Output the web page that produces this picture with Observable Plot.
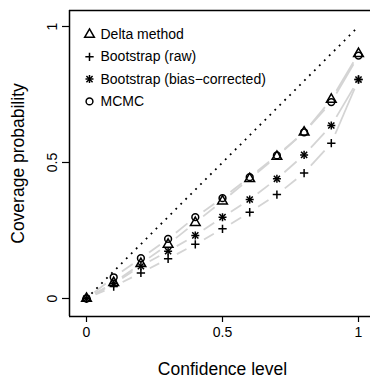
<!DOCTYPE html>
<html>
<head>
<meta charset="utf-8">
<script src="https://cdn.jsdelivr.net/npm/d3@7"></script>
<script src="https://cdn.jsdelivr.net/npm/@observablehq/plot@0.6"></script>
<style>
  html, body { margin: 0; padding: 0; background: #fff; }
  #chart svg { display: block; }
</style>
</head>
<body>
<div id="chart"></div>
<script>
// Nominal confidence level of each interval
const levels = [0, 0.1, 0.2, 0.3, 0.4, 0.5, 0.6, 0.7, 0.8, 0.9, 1.0];

// Empirical coverage probability for each method
const deltaMethod = [0, 0.058, 0.128, 0.199, 0.279, 0.358, 0.440, 0.522, 0.611, 0.732, 0.900];
const bootRaw     = [0, 0.044, 0.094, 0.146, 0.199, 0.256, 0.317, 0.382, 0.461, 0.571, 0.805];
const bootBC      = [0, 0.055, 0.119, 0.174, 0.232, 0.299, 0.364, 0.440, 0.528, 0.636, 0.805];
const mcmc        = [0, 0.078, 0.148, 0.219, 0.299, 0.369, 0.446, 0.526, 0.611, 0.722, 0.893];

const seriesNames = ["Delta method", "Bootstrap (raw)", "Bootstrap (bias\u2212corrected)", "MCMC"];
const seriesValues = [deltaMethod, bootRaw, bootBC, mcmc];

const xTicks = [0, 0.5, 1];
const yTicks = [0, 0.5, 1];

// Long table of points and the connecting segments between successive levels
const points = seriesNames.flatMap((name, s) =>
  levels.map((x, i) => ({series: name, x, y: seriesValues[s][i]})));
const segments = seriesNames.flatMap((name, s) =>
  levels.slice(1).map((x, i) => ({
    series: name,
    x1: levels[i], y1: seriesValues[s][i],
    x2: x, y2: seriesValues[s][i + 1]
  })));
const byName = (name) => points.filter((d) => d.series === name);

const font = "'Liberation Sans', Arial, Helvetica, sans-serif";
const ink = "#000";
const symbolStyle = {stroke: ink, fill: "none", strokeWidth: 1.5};

// Marker glyphs per method; the bias-corrected asterisk is a plus over a cross
const glyphs = {
  "Delta method": [{symbol: "triangle", r: 3.6}],
  "Bootstrap (raw)": [{symbol: "plus", r: 2.8}],
  "Bootstrap (bias\u2212corrected)": [{symbol: "plus", r: 2.7}, {symbol: "times", r: 2.9}],
  "MCMC": [{symbol: "circle", r: 3.4}]
};

const xDomain = [-0.0625, 1.0441];
const yDomain = [-0.0662, 1.0588];

const marks = [
  // connecting lines, broken around each marker
  Plot.arrow(segments, {
    x1: "x1", y1: "y1", x2: "x2", y2: "y2",
    insetStart: 10, insetEnd: 10, headLength: 0,
    stroke: "#d4d4d4", strokeWidth: 1.8, strokeLinecap: "butt"
  }),
  // reference line: coverage equal to the nominal level
  Plot.line([0, 1], {
    x: (d) => d, y: (d) => d,
    stroke: ink, strokeWidth: 1.8, strokeDasharray: "1.8,5.2", strokeLinecap: "butt"
  })
];

for (const name of seriesNames) {
  for (const g of glyphs[name]) {
    marks.push(Plot.dot(byName(name), {x: "x", y: "y", ...g, ...symbolStyle}));
  }
}

// legend inside the panel
seriesNames.forEach((name, i) => {
  const dy = 24 + 22.3 * i;
  for (const g of glyphs[name]) {
    marks.push(Plot.dot([name], {frameAnchor: "top-left", dx: 20, dy, ...g, ...symbolStyle}));
  }
  marks.push(Plot.text([name], {
    text: (d) => d, frameAnchor: "top-left", dx: 31, dy,
    textAnchor: "start", lineAnchor: "middle", fontSize: 14, fill: ink
  }));
});

// panel border (top, left, bottom)
marks.push(
  Plot.ruleY([yDomain[1]], {stroke: ink, strokeWidth: 1.5}),
  Plot.ruleY([yDomain[0]], {stroke: ink, strokeWidth: 1.5}),
  Plot.ruleX([xDomain[0]], {stroke: ink, strokeWidth: 1.5})
);

// axes and titles
marks.push(
  Plot.axisX({ticks: xTicks, tickSize: 6, tickPadding: 5, fontSize: 14,
    tickFormat: (d) => `${d}`, label: null, strokeWidth: 1.2}),
  Plot.axisY({ticks: yTicks, tickSize: 7, tickPadding: 6, tickRotate: -90, fontSize: 14,
    tickFormat: (d) => `${d}`, label: null, strokeWidth: 1.2}),
  Plot.text(["Confidence level"], {text: (d) => d, frameAnchor: "bottom", dx: 2.5, dy: 53,
    textAnchor: "middle", lineAnchor: "middle", fontSize: 17.5, fill: ink}),
  Plot.text(["Coverage probability"], {text: (d) => d, frameAnchor: "left", dx: -51.5,
    rotate: -90, textAnchor: "middle", lineAnchor: "middle", fontSize: 17.5, fill: ink})
);

const chart = Plot.plot({
  width: 370,
  height: 378,
  marginLeft: 69,
  marginRight: 0,
  marginTop: 10,
  marginBottom: 62,
  x: {domain: xDomain},
  y: {domain: yDomain},
  style: {fontFamily: font, background: "#fff", color: ink, overflow: "visible"},
  marks
});
document.getElementById("chart").appendChild(chart);
</script>
</body>
</html>
